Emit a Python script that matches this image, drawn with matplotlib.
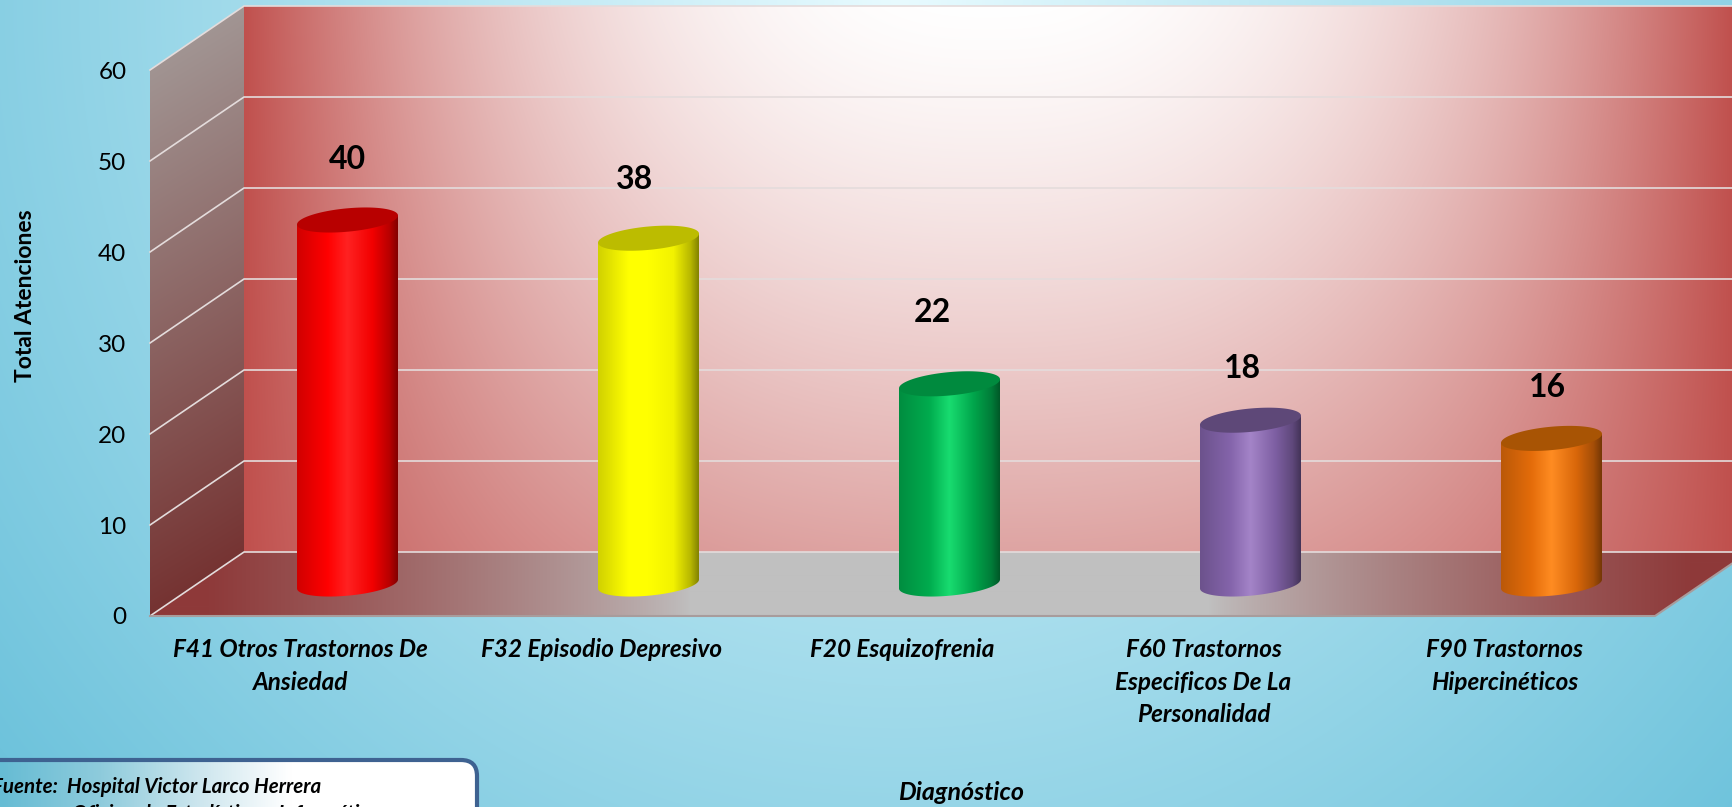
import numpy as np
import matplotlib
matplotlib.use('Agg')
import matplotlib.pyplot as plt
from matplotlib.patches import Polygon, FancyBboxPatch
from matplotlib.colors import to_rgb

plt.rcParams['font.family'] = ['Lato', 'DejaVu Sans']

categories = ['F41 Otros Trastornos De\nAnsiedad', 'F32 Episodio Depresivo', 'F20 Esquizofrenia',
              'F60 Trastornos\nEspecificos De La\nPersonalidad', 'F90 Trastornos\nHipercinéticos']
values = [40, 38, 22, 18, 16]
y_ticks = [0, 10, 20, 30, 40, 50, 60]
base_colors = ['#ff0000', '#ffff00', '#00ac4e', '#8464ab', '#e46c0a']
bright_colors = ['#ff2222', '#ffff00', '#18dc70', '#a484c8', '#ff8c22']
top_colors = ['#b80000', '#bcbc00', '#008a3e', '#5e4878', '#a85404']
# data labels were moved by hand in the original (offset from the bar top, pixels)
label_dx = [0, -14, -17, -8, -4]
label_dy = [61, 59, 71, 52, 51]

W, H = 1733, 807
X0, Y0 = 150, 616         # front left corner of the floor
SX, SY = 301.0, 9.1       # pixels per category, pixels per unit
DX, DY = 94 / SX, 64 / SY  # depth of the box in data units
RX, RU, RT = 50.5 / SX, 11.7 / SY, 4.5 / SY  # cylinder ellipse

fig = plt.figure(figsize=(W / 100, H / 100), dpi=100)

# background
bg = fig.add_axes([0, 0, 1, 1], zorder=0)
bg.set_xlim(0, W)
bg.set_ylim(H, 0)
bg.axis('off')
xx, yy = np.meshgrid(np.arange(W) + .5, np.arange(H) + .5)
t = np.sqrt(((xx - 900) / 1150) ** 2 + (yy / 1200) ** 2)[..., None]
c0, c1 = np.array(to_rgb('#e8fbff')), np.array(to_rgb('#6ec3dc'))
bg.imshow(np.clip(c0 + (c1 - c0) * t, 0, 1), extent=(0, W, H, 0), aspect='auto')

ax = fig.add_axes([X0 / W, 1 - Y0 / H, 5 * SX / W, 60 * SY / H], zorder=1)
ax.patch.set_visible(False)
for s in ax.spines.values():
    s.set_visible(False)


def to_px(x, y):
    return X0 + x * SX, Y0 - y * SY


def gradient(poly, func, zorder):
    poly = np.array(poly)
    x1, x2 = poly[:, 0].min(), poly[:, 0].max()
    y1, y2 = poly[:, 1].min(), poly[:, 1].max()
    nx = max(int((x2 - x1) * SX), 2)
    ny = max(int((y2 - y1) * SY), 2)
    dx, dy = np.meshgrid(np.linspace(x1, x2, nx), np.linspace(y2, y1, ny))
    px, py = to_px(dx, dy)
    im = ax.imshow(np.clip(func(px, py), 0, 1), extent=(x1, x2, y1, y2), aspect='auto',
                   zorder=zorder, interpolation='bilinear')
    im.set_clip_box(fig.bbox)
    im.set_clip_path(Polygon(poly, transform=ax.transData))


def lerp(a, b, t):
    a, b = np.array(to_rgb(a)), np.array(to_rgb(b))
    return a + (b - a) * np.clip(t, 0, 1)[..., None]


def wall_color(px, py):
    d = (np.abs(px - 988) / 745) ** 2.4
    return lerp('#ffffff', '#c0504d', d + .52 * (py / 552) ** 1.3 * (1 - d))


def floor_color(px, py):
    return lerp('#c0c0c0', '#8e3a3a', np.clip((np.abs(px - 950) - 260) / 480, 0, 1) ** .8)


def side_color(px, py):
    return lerp('#a49b99', '#74302f', (py - 30 + (px - 150) * .6) / 600)


ymax = y_ticks[-1]
gradient([(DX, DY), (6, DY), (6, ymax + DY), (DX, ymax + DY)], wall_color, 1)
gradient([(0, 0), (DX, DY), (DX, ymax + DY), (0, ymax)], side_color, 1)
gradient([(0, 0), (5, 0), (5 + DX, DY), (DX, DY)], floor_color, 1)

# gridlines on both walls
grid_c = '#e4dcdc'
for v in y_ticks:
    ax.plot([0, DX, 6], [v, v + DY, v + DY], color=grid_c, lw=1.2, clip_on=False, zorder=2)
ax.plot([0, 5, 5 + DX], [0, 0, DY], color='#a89c9c', lw=1.5, clip_on=False, zorder=2)

# cylinders
theta = np.linspace(0, 2 * np.pi, 121)
for i, v in enumerate(values):
    cx = i + .5 + DX / 2
    base = DY / 2
    ex = RX * np.cos(theta)
    eu = RT * np.cos(theta) + RU * np.sin(theta)
    low = theta >= np.pi
    side = np.column_stack([cx + ex[low], base + eu[low]])
    outline = np.vstack([side, [[cx + RX, base + v + RT], [cx - RX, base + v - RT]]])

    c = np.array(to_rgb(base_colors[i]))
    b = np.array(to_rgb(bright_colors[i]))
    stops = [0, .3, .5, .75, .92, 1]
    cols = np.array([c * .82, c, b, c * .95, c * .72, c * .52])
    left_px = X0 + (cx - RX) * SX

    def body(px, py, left_px=left_px, cols=cols):
        s = (px - left_px) / (2 * RX * SX)
        return np.dstack([np.interp(s, stops, cols[:, k]) for k in range(3)])

    gradient(outline, body, 3)
    ax.add_patch(Polygon(np.column_stack([cx + ex, base + v + eu]), closed=True,
                         fc=top_colors[i], ec='none', clip_on=False, zorder=4))
    ax.annotate(str(v), (cx, base + v), xytext=(label_dx[i] * .72, label_dy[i] * .72),
                textcoords='offset points', ha='center', va='center', fontsize=23,
                fontweight='bold', color='black', zorder=5, annotation_clip=False)

ax.set_xlim(0, 5)
ax.set_ylim(0, ymax)
ax.set_yticks(y_ticks)
ax.set_xticks(np.arange(len(categories)) + .5)
ax.set_xticklabels(categories, fontsize=17.5, fontweight='bold', fontstyle='italic', linespacing=1.5)
ax.tick_params(axis='x', length=0, pad=16)
ax.tick_params(axis='y', length=0, pad=17, labelsize=17.5)
ax.set_xlabel('Diagnóstico', fontsize=18, fontweight='bold', fontstyle='italic', va='center')
ax.xaxis.set_label_coords((961 - X0) / (5 * SX), (Y0 - 793) / (60 * SY))
ax.set_ylabel('Total Atenciones', fontsize=16.5, fontweight='bold', va='center')
ax.yaxis.set_label_coords((26 - X0) / (5 * SX), (Y0 - 296) / (60 * SY))

# source box, runs off the slide at the bottom left
ov = fig.add_axes([0, 0, 1, 1], zorder=2)
ov.set_xlim(0, W)
ov.set_ylim(H, 0)
ov.axis('off')
box = FancyBboxPatch((-40, 760), 517, 100, boxstyle='round,pad=0,rounding_size=16',
                     fc='none', ec='#3e6291', lw=3, zorder=3)
ov.add_patch(box)
gx = np.linspace(0, 480, 256)
fill = np.column_stack([np.interp(gx, [0, 100, 200, 290], [to_rgb(k)[j] for k in ('#66bcd4', '#8ecbdc', '#cde6ee', '#ffffff')])
                        for j in range(3)])[None, ...]
im = ov.imshow(fill, extent=(0, 480, H, 755), aspect='auto', zorder=2)
im.set_clip_path(box)
ov.set_xlim(0, W)
ov.set_ylim(H, 0)
ov.text(-8, 793, 'Fuente:  Hospital Victor Larco Herrera', fontsize=14.8, fontweight='bold',
        fontstyle='italic', va='baseline', zorder=4)
ov.text(72, 820, 'Oficina de Estadística e Informática', fontsize=14.8, fontweight='bold',
        fontstyle='italic', va='baseline', zorder=4, clip_on=True)

fig.savefig('out.png', dpi=100)
